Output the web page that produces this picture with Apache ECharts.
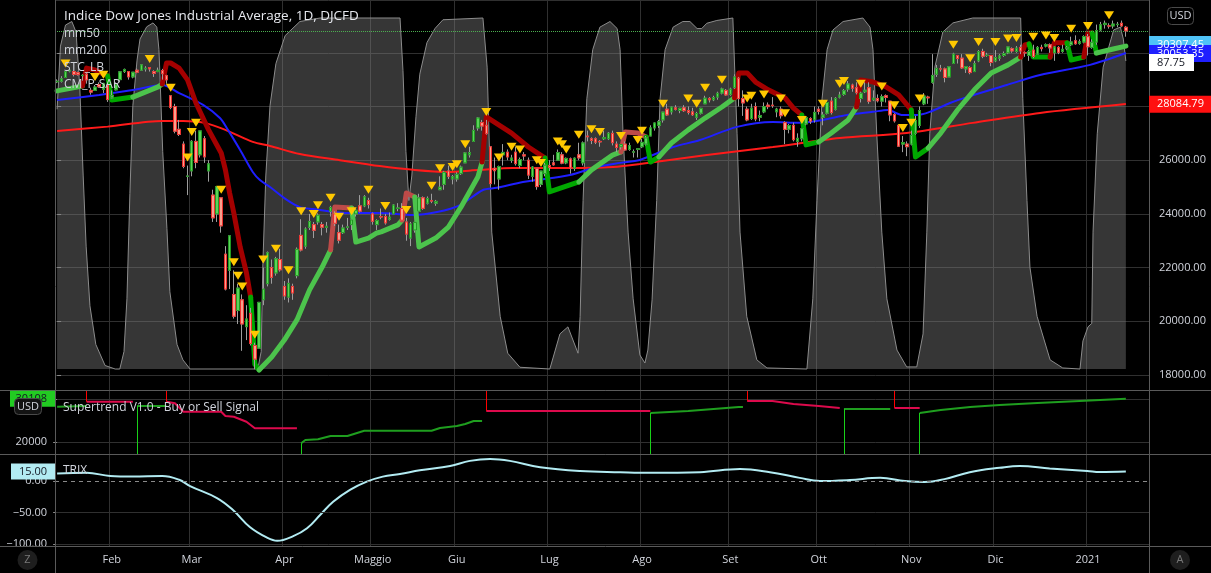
<!DOCTYPE html>
<html><head><meta charset="utf-8">
<script src="https://cdn.jsdelivr.net/npm/echarts@6.0.0/dist/echarts.min.js"></script>
<style>html,body{margin:0;padding:0;background:#000;overflow:hidden}#c{width:1211px;height:573px}</style>
</head><body><div id="c"></div>
<script>
// ---------------- DATA ----------------
const startDate = '2020-01-14', endDate = '2021-01-15';
const holidays = ['2020-01-20','2020-02-17','2020-04-10','2020-05-25','2020-07-03','2020-09-07','2020-11-26','2020-12-25','2021-01-01'];
const monthLabels = {'2020-02':'Feb','2020-03':'Mar','2020-04':'Apr','2020-05':'Maggio','2020-06':'Giu','2020-07':'Lug','2020-08':'Ago','2020-09':'Set','2020-10':'Ott','2020-11':'Nov','2020-12':'Dic','2021-01':'2021'};

// daily candles [open, close, low, high]
const ohlc = [
// Jan 2020
[28920,28940,28870,29010],[28940,29030,28890,29130],[29080,29298,29080,29300],[29320,29348,29270,29373],[29300,29196,29120,29330],
[29260,29186,29150,29300],[29150,29160,28960,29200],[29200,28990,28850,29250],[28600,28536,28440,28700],[28600,28723,28580,28800],
[28820,28734,28700,28900],[28640,28860,28500,28880],[28800,28256,28170,28860],
// Feb
[28320,28400,28300,28600],[28620,28808,28600,28900],[29000,29290,28900,29320],[29300,29380,29250,29410],[29300,29103,29000,29320],
[29100,29277,29050,29280],[29350,29276,29240,29420],[29350,29551,29350,29570],[29400,29424,29300,29500],[29450,29398,29300,29470],
[29300,29232,29100,29350],[29300,29348,29280,29450],[29340,29219,29000,29400],[29150,28992,28850,29180],[28400,27961,27900,28400],
[28000,27081,27000,28100],[27150,26957,26900,27500],[26600,25766,25700,26700],[25400,25409,24700,25800],
// Mar
[25600,26703,25400,26750],[26700,25917,25700,27100],[26200,27091,26100,27100],[26800,26121,25900,26900],[25600,25865,25200,26000],
[24700,23851,23700,24900],[24000,25018,23700,25020],[24600,23553,23300,24600],[22500,21200,21150,22800],[21900,23186,21200,23200],
[21000,20189,20100,21900],[20400,21237,19900,21400],[20800,19899,18900,21000],[19800,20087,19300,20600],[20300,19174,19100,20500],
[19100,18592,18213,19200],[19000,20705,19000,20720],[20800,21200,20600,22000],[21400,22552,21300,22600],[22000,21637,21400,22300],
[21800,22328,21700,22400],[22300,21917,21850,22700],
// Apr
[21300,20944,20800,21500],[20900,21413,20700,21600],[21300,21053,20800,21400],[21700,22680,21600,22750],[23200,22654,22600,23800],
[22800,23434,22700,23500],[23500,23719,23400,24000],[23600,23390,23100,23700],[23700,23950,23600,24020],[23600,23505,23200,23700],
[23500,23538,23300,23700],[24100,24242,23900,24300],[24000,23650,23550,24100],[23300,23019,22900,23600],[23300,23475,23250,23600],
[23500,23516,23400,23850],[23600,23775,23400,23800],[24000,24134,23900,24200],[24300,24102,24050,24700],[24300,24634,24250,24700],
[24500,24346,24200,24600],
// May
[24000,23724,23600,24050],[23600,23750,23400,23800],[23900,23883,23800,24200],[23900,23664,23600,24000],[23800,23876,23750,24050],
[24000,24331,24000,24360],[24200,24221,24100,24400],[24200,23764,23750,24400],[23700,23248,23000,23850],[23100,23625,22800,23700],
[23400,23685,23300,23700],[24100,24597,24100,24750],[24600,24207,24150,24650],[24400,24576,24350,24650],[24500,24474,24400,24750],
[24400,24465,24300,24520],[24900,24995,24900,25400],[25100,25548,24900,25600],[25600,25401,25300,25800],[25300,25383,25100,25450],
// Jun
[25300,25475,25200,25550],[25500,25742,25450,25800],[25900,26270,25900,26300],[26200,26282,26100,26500],[26700,27111,26700,27300],
[27200,27572,27100,27600],[27400,27272,27100,27500],[27300,26990,26950,27500],[26500,25128,25050,26500],[25700,25606,25100,26100],
[25300,25763,24900,25800],[26200,26290,25800,26600],[26300,26120,26000,26400],[26000,26080,25900,26200],[26300,25871,25800,26500],
[25800,26025,25700,26100],[26200,26156,26000,26300],[26000,25445,25300,26100],[25400,25745,25200,25780],[25700,25016,24900,25700],
[25100,25596,25000,25600],[25500,25813,25400,25900],
// Jul
[25800,25734,25600,26000],[25900,25827,25800,26200],[26000,26287,26000,26400],[26200,25890,25850,26300],[25900,26067,25850,26100],
[26050,25706,25500,26100],[25700,26075,25600,26100],[26200,26086,26000,26650],[25900,26643,25800,26700],[26900,26870,26700,27100],
[26800,26735,26600,26850],[26800,26672,26600,26850],[26700,26680,26500,26750],[26800,26840,26750,27100],[26800,27005,26750,27050],
[27000,26652,26550,27100],[26600,26470,26300,26700],[26500,26584,26400,26600],[26600,26379,26350,26700],[26400,26540,26350,26650],
[26300,26313,26100,26400],[26400,26428,26100,26450],
// Aug
[26500,26664,26450,26800],[26600,26828,26550,26900],[26900,27201,26900,27300],[27200,27386,27100,27400],[27300,27433,27200,27500],
[27500,27791,27400,27800],[27900,27686,27650,28100],[27800,27977,27700,28000],[27950,27896,27850,28050],[27850,27931,27750,27950],
[27950,27844,27800,28050],[27850,27778,27700,28000],[27800,27692,27650,27950],[27600,27739,27500,27800],[27750,27930,27700,27950],
[28100,28308,28100,28400],[28300,28248,28150,28350],[28250,28331,28200,28400],[28350,28492,28250,28550],[28500,28653,28450,28700],
[28600,28430,28400,28650],
// Sep
[28450,28645,28400,28700],[28700,29100,28650,29200],[29050,28292,28000,29100],[28300,28133,27650,28600],[27900,27500,27450,28000],
[27550,27940,27500,28100],[28000,27535,27450,28150],[27600,27666,27450,27850],[27800,27993,27750,28150],[28050,27995,27900,28150],
[28050,28032,27950,28350],[27800,27902,27600,27950],[27900,27657,27550,28000],[27400,27147,26600,27450],[27150,27288,27000,27350],
[27300,26763,26700,27400],[26700,26815,26500,27000],[26800,27174,26700,27200],[27350,27584,27300,27650],[27550,27452,27350,27600],
[27500,27781,27400,28000],
// Oct
[27900,27817,27700,28000],[27600,27683,27300,27800],[27750,28149,27700,28200],[28200,27773,27700,28350],[27900,28303,27850,28350],
[28350,28426,28300,28550],[28450,28587,28400,28650],[28650,28838,28550,28950],[28800,28680,28550,28850],[28700,28514,28450,28900],
[28300,28494,28150,28550],[28550,28606,28500,28900],[28700,28195,28100,28900],[28250,28309,28200,28600],[28300,28211,28150,28450],
[28200,28364,28000,28450],[28400,28336,28150,28450],[28200,27685,27450,28200],[27700,27463,27400,27750],[27300,26520,26500,27300],
[26600,26659,26300,26900],[26600,26502,26150,26700],
// Nov
[26600,26925,26550,27100],[27000,27481,26950,27650],[27300,27848,27200,28000],[28100,28390,28050,28500],[28350,28323,28100,28400],
[28900,29158,28850,29950],[29200,29421,29100,29550],[29400,29398,29300,29550],[29400,29080,28900,29450],[29100,29480,29100,29500],
[29600,29950,29600,30000],[29900,29784,29600,29900],[29800,29438,29400,29950],[29400,29483,29250,29500],[29450,29263,29200,29500],
[29300,29591,29300,29700],[29700,30046,29650,30100],[30050,29872,29800,30150],[29900,29910,29850,30000],[29900,29639,29500,29900],
// Dec
[29700,29824,29650,30100],[29800,29884,29700,29950],[29900,29970,29850,30050],[30000,30218,29950,30230],[30150,30070,30000,30200],
[30050,30174,30000,30250],[30200,30068,29950,30300],[30000,29999,29850,30050],[29900,30046,29700,30100],[30100,29862,29800,30300],
[29950,30200,29950,30250],[30200,30155,30050,30300],[30250,30304,30200,30350],[30300,30180,30000,30350],[30000,30216,29700,30250],
[30200,30016,29950,30250],[30050,30130,30000,30300],[30150,30200,30100,30250],[30300,30404,30250,30600],[30450,30336,30300,30650],
[30350,30410,30300,30500],[30400,30606,30350,30650],
// Jan 2021
[30600,30224,29900,30700],[30200,30392,30150,30500],[30400,30829,30300,31050],[30850,31041,30800,31150],[31050,31098,30900,31200],
[31000,30998,30900,31100],[31000,31069,30900,31200],[31050,31061,30950,31150],[31100,31000,30950,31200],[30950,30814,30600,31000]
];

// indicator vertices: [bar number, value]
const ma50 = [[0,28240],[10,28430],[18,28610],[25,28800],[29,28500],[34.7,28060],[38.7,27570],[40.6,27130],[43.5,26380],[46.5,25560],
 [48.2,25260],[50.6,25000],[54.6,24520],[57.7,24250],[60.8,24180],[69.6,24030],[76.7,24030],[84.6,23960],[90.3,24070],[95.8,24330],
 [101.2,24890],[104.5,24970],[110.7,25190],[114,25260],[121.9,25450],[128.3,25750],[133.8,25900],[138.5,26010],[146.4,26490],
 [152.8,26750],[161.6,27240],[170.1,27420],[176.5,27390],[182,27500],[187.7,27680],[193.9,27800],[197.4,27870],[201,27680],
 [204.3,27680],[207.4,27800],[212.2,28130],[216.2,28350],[225.7,28800],[233.6,29170],[245.5,29550],[254,29990]];
const ma200 = [[0,27090],[12,27250],[25,27460],[30,27460],[35,27390],[40,27130],[46.5,26680],[50.6,26530],[57.7,26230],[67.2,26000],
 [76.7,25780],[84.6,25640],[92.7,25560],[100.5,25640],[108.3,25710],[124.3,25710],[132.1,25750],[138.5,25860],[154.4,26190],
 [170.1,26490],[186,26830],[201.9,27010],[217.6,27390],[233.6,27760],[254,28090]];
const stc = [[0,74],[0.8,92],[2,98],[3.5,99],[4.5,96],[5.4,80],[6.2,55],[6.9,35],[7.8,18],[9.2,7],[11.4,1],[13.8,0],[14.9,0],[15.9,5],
 [16.6,20],[17.3,50],[18,75],[19,88],[19.7,94],[21.3,97.5],[22.8,98.6],[23.7,97.4],[24.2,91],[24.4,85],[25.1,62],[26.1,40],[26.8,22],
 [28.5,7],[29.9,2.6],[31.6,0],[47.7,0],[48.5,5],[48.9,30],[49.6,55],[50.6,75],[52,87],[54.2,95],[57.7,99],[62.5,100],[81.5,100],
 [82.2,85],[82.9,62],[83.6,48],[84.3,55],[85.3,72],[86.2,84],[87.9,93],[89.8,97],[91.7,99.5],[101.2,100],[102.2,86],[103.3,39],
 [105.3,15],[107.1,4.5],[110,0.5],[117.1,0],[119.5,10],[121.4,12],[123.8,4.5],[124.3,15],[125,48],[125.9,77],[127.3,91],[129,97.4],
 [131.4,99],[133.1,97],[133.8,91],[134.5,67],[135.7,39],[136.9,20],[138.5,4],[139.7,1.7],[140.4,5.4],[141.4,19.7],[142.5,48],
 [143.3,77],[144.5,91],[146.4,97.4],[148.7,99],[150.4,99],[152.1,97],[153.2,97],[154.4,98.5],[156.8,99.3],[160.6,100],[161.6,67],
 [162.3,39],[163.9,15],[166.3,2.6],[168.7,0.3],[178.2,0],[179.6,20],[180.6,48],[181.8,77],[183,91],[184.4,96.6],[186.8,99],
 [191.5,100],[193.2,97.4],[193.9,91],[194.8,67],[196,39],[197.2,20],[199.6,5.4],[201.9,0.6],[204.3,0.6],[205.8,10],[206.7,39],
 [207.4,67],[208.6,86],[210.5,96],[212.9,98.6],[217.6,100],[229,100],[229.5,77],[230.5,48],[231.2,29],[232.9,15],[236,2.6],
 [239,0.3],[243.1,0],[243.8,8],[245,12],[245.9,13],[246.2,39],[247.2,67],[248.6,86],[251.1,96.6],[252.7,97.4],[253.4,94],[254,87.75]];
// CM_P-SAR trail: trend 'up' | 'upStart' | 'down' | 'downSoft'
const sarSegments = [
 {trend:'up', pts:[[0,28580],[6,28760]]},
 {trend:'down', pts:[[6,28760],[7,29430],[9,29360],[12,29140]]},
 {trend:'upStart', pts:[[12,29140],[13,28240],[18,28350]]},
 {trend:'up', pts:[[18,28350],[24,28730],[25,28840]]},
 {trend:'down', pts:[[25,28840],[26,29620],[27,29620],[29,29430],[31,28990],[33,28130],[36,27130],[39,26270],[40,25640],[41,24780],[42,24030],[43.5,22770],[45,21800],[46,20900]]},
 {trend:'upStart', pts:[[46,20900],[47,18400],[48,18190]]},
 {trend:'up', pts:[[48,18190],[51,18670],[54,19300],[57,20050],[60,21170],[63,22020],[65,22660]]},
 {trend:'downSoft', pts:[[65,22660],[66,24260],[70,24220]]},
 {trend:'up', pts:[[70,24220],[71,22950],[74,23100],[76,23290],[77,23330],[81,23590],[82,23770]]},
 {trend:'downSoft', pts:[[82,23770],[83,24780],[85,24630]]},
 {trend:'up', pts:[[85,24630],[86,22770],[90,23100],[93,23510],[96,24260],[100,25370],[101,25930]]},
 {trend:'down', pts:[[101,25930],[102,27610],[108,27010],[112,26490],[116,26080]]},
 {trend:'upStart', pts:[[116,26080],[117,24820],[124,25190]]},
 {trend:'up', pts:[[124,25190],[127,25640],[132,26190],[134,26310]]},
 {trend:'downSoft', pts:[[134,26310],[135,27050],[138,27010],[140,26860]]},
 {trend:'upStart', pts:[[140,26860],[141,25930],[143,26120]]},
 {trend:'up', pts:[[143,26120],[146,26640],[150,27130],[154,27570],[158,27980],[161,28320]]},
 {trend:'down', pts:[[161,28320],[162,29250],[164,29250],[166,28910],[169,28620],[173,28320],[175,27940],[177,27680]]},
 {trend:'upStart', pts:[[177,27680],[178,26570],[181,26680]]},
 {trend:'up', pts:[[181,26680],[184,27010],[188,27500],[190,27980]]},
 {trend:'down', pts:[[190,27980],[191,28990],[194,28910],[197,28730],[200,28430],[203,27870]]},
 {trend:'upStart', pts:[[203,27870],[204,26120],[207,26450]]},
 {trend:'up', pts:[[207,26450],[210,27010],[214,27870],[218,28620],[222,29250],[226,29550],[229,29840]]},
 {trend:'down', pts:[[229,29840],[230,30290],[231,30330]]},
 {trend:'upStart', pts:[[231,30330],[232,29840],[236,29840]]},
 {trend:'down', pts:[[236,29840],[237,30370],[240,30370]]},
 {trend:'upStart', pts:[[240,30370],[241,29730],[244,29840]]},
 {trend:'down', pts:[[244,29840],[245,30740],[246,30740]]},
 {trend:'upStart', pts:[[246,30740],[247,29990]]},
 {trend:'up', pts:[[247,29990],[251,30140],[254,30250]]}
];
// bars carrying a yellow signal triangle
const triangleBars = [2,9,11,22,27,31,32,33,39,42,43,44,47,49,52,55,58,61,62,65,67,70,74,78,83,89,91,94,95,97,102,105,108,110,114,115,
 119,120,121,124,127,129,134,138,139,144,150,152,154,158,164,165,168,172,173,177,182,186,187,191,196,199,201,203,205,213,217,219,
 223,226,228,232,235,237,241,245,250];
// Supertrend pane
const supertrend = [
 {trend:'up', pts:[[0,28250],[7,28410]]},
 {trend:'down', pts:[[7,29420],[18,29420]]},
 {trend:'up', pts:[[19,28410],[26,28410]]},
 {trend:'down', pts:[[26,29420],[28,29040],[30,27080],[39,27080],[40,26080],[42,25910],[45,24740],[47,23200],[57,23200]]},
 {trend:'up', pts:[[58,19700],[59,20470],[62,20630],[65,21400],[69,21400],[73,22640],[89,22640],[91,23270],[95,23740],[97,24200],[99,24900],[101,24900]]},
 {trend:'down', pts:[[102,27250],[141,27250]]},
 {trend:'up', pts:[[141,26780],[150,27250],[162,28180],[163,28180]]},
 {trend:'down', pts:[[164,29580],[170,29580],[175,28880],[181,28410],[186,27950]]},
 {trend:'up', pts:[[187,27710],[198,27710]]},
 {trend:'down', pts:[[199,27950],[205,27950]]},
 {trend:'up', pts:[[205,26780],[210,27480],[217,28180],[224,28650],[233,29110],[243,29580],[254,30108]]}
];
const trix = [[0,12],[7,13],[12.6,8],[18,7],[25,8],[29,2],[31.6,-8],[38,-27],[41.8,-46],[45.8,-73],[49.9,-90],[52.3,-95],[56,-88],
 [59.4,-75],[62.5,-54],[65.6,-33],[69.6,-14],[73.6,-1],[77.4,7],[81.5,11],[86.2,17],[93.4,24],[98.1,32],[102.9,35],[107.6,32],
 [114.8,22],[124.3,16],[133.8,14],[140.9,13],[152.8,14],[162.3,19],[169.4,14],[176.5,5],[181.3,0],[188.4,1.6],[195.6,5],[201.5,0],
 [206.2,-1.6],[210.9,3],[216.9,14],[224,21],[228.8,24],[235.9,20],[244.8,16],[247.8,14.3],[254,15]];
// last-value labels
const priceLabels = [
 {axis:0, value:30307.45, text:'30307.45', bg:'#4fc3f7', fg:'#ffffff'},
 {axis:0, value:30053.35, text:'30053.35', bg:'#1f1fff', fg:'#ffffff'},
 {axis:1, value:87.75, text:'87.75', bg:'#ffffff', fg:'#131722', w:45},
 {axis:0, value:28084.79, text:'28084.79', bg:'#ff1010', fg:'#ffffff'}
];
const stLast = {value:30108, text:'30108'};
const trixLast = {value:15, text:'15.00'};

// ---------------- CHART ----------------
const FONT = '"Open Sans", "Noto Sans", sans-serif';
const TXT = '#d1d4dc', GRIDC = '#303030', SEP = '#5a5a5a';
const PAD_BARS = 5;
function tradingDays(){
  const out=[]; let d=new Date(startDate+'T00:00:00Z'); const e=new Date(endDate+'T00:00:00Z');
  while(d<=e){ const wd=d.getUTCDay(); const s=d.toISOString().slice(0,10);
    if(wd!==0 && wd!==6 && holidays.indexOf(s)<0) out.push(s); d=new Date(d.getTime()+86400000); }
  return out;
}
const dates = tradingDays();
const N = dates.length + PAD_BARS;
const cats = dates.concat(Array.from({length:PAD_BARS},(_,i)=>'pad'+i));
const isMonthStart = i => i>0 && i<dates.length && dates[i].slice(0,7)!==dates[i-1].slice(0,7);

const PRICE_MIN=17441, PRICE_MAX=31966, STC_MIN=-5.98, STC_MAX=105.13, ST_MIN=17196, ST_MAX=32152, TRIX_MIN=-103.2, TRIX_MAX=42.9;
const minus = v => String(v).replace('-', '\u2212');

function catAxis(g, labels){
  return {type:'category', gridIndex:g, data:cats, boundaryGap:true,
    axisLine:{show:false}, axisTick:{show:false},
    axisLabel: labels ? {show:true, interval:(i)=>isMonthStart(i), formatter:(v)=>monthLabels[v.slice(0,7)]||'',
      color:TXT, fontSize:11, fontFamily:FONT, margin:8} : {show:false},
    splitLine:{show:true, interval:(i)=>isMonthStart(i), lineStyle:{color:GRIDC, width:1}}};
}
function valAxis(g){ return {type:'value', gridIndex:g, min:-0.5, max:N-0.5, show:false}; }

const sarColor = {up:'#4cc34c', upStart:'#00a800', down:'#a40000', downSoft:'#bd4a48'};
const stColor = {up:'#1f9e1f', down:'#dc0a4c'};

const series = [];
series.push({type:'line', name:'STC_LB', xAxisIndex:1, yAxisIndex:1, data:stc, symbol:'none', z:1,
  lineStyle:{color:'#8c8c8c', width:1}, areaStyle:{color:'rgba(128,128,128,0.6)'}});
series.push({type:'line', name:'mm200', xAxisIndex:1, yAxisIndex:0, data:ma200, symbol:'none', smooth:0.3, z:3,
  lineStyle:{color:'#ff1a1a', width:2}});
series.push({type:'line', name:'mm50', xAxisIndex:1, yAxisIndex:0, data:ma50, symbol:'none', smooth:0.3, z:3,
  lineStyle:{color:'#1f1fff', width:2}});
sarSegments.forEach(s => series.push({type:'line', xAxisIndex:1, yAxisIndex:0, data:s.pts, symbol:'none', z:4,
  lineStyle:{color:sarColor[s.trend], width:5, cap:'round', join:'round'}}));
series.push({type:'candlestick', xAxisIndex:0, yAxisIndex:0, data:ohlc, barWidth:3, z:5,
  itemStyle:{color:'#9e9e9e', color0:'#9e9e9e', borderColor:'#9e9e9e', borderColor0:'#9e9e9e', borderWidth:1}});
series.push({type:'candlestick', xAxisIndex:0, yAxisIndex:0, z:6, barWidth:3,
  data:ohlc.map(r=>[r[0],r[1],Math.min(r[0],r[1]),Math.max(r[0],r[1])]),
  itemStyle:{color:'#5bd35b', color0:'#f7a08e', borderColor:'#229a22', borderColor0:'#ee2f2c', borderWidth:1},
  markLine:{silent:true, symbol:['none','none'], label:{show:false},
    data:[{yAxis:ohlc[ohlc.length-1][1], lineStyle:{color:'#4caf50', type:'dotted', width:1}}]}});
series.push({type:'scatter', xAxisIndex:0, yAxisIndex:0, z:7, symbol:'triangle', symbolRotate:180, symbolSize:[10,8],
  symbolOffset:[0,-8], data:triangleBars.map(i=>[i, ohlc[i][3]]), itemStyle:{color:'#ffc800', opacity:1}});
// supertrend
const stSignals = [];
supertrend.forEach((s,k) => { if(k>0) stSignals.push([s.pts[0][0], s.trend, s.pts[0][1]]); });
supertrend.forEach((s,k) => series.push({type:'line', xAxisIndex:3, yAxisIndex:2, data:s.pts, symbol:'none', z:4,
  lineStyle:{color:stColor[s.trend], width:2},
  markLine: k===supertrend.length-1 ? {silent:true, symbol:['none','none'], label:{show:false},
    data: stSignals.map(([i,t,v]) => [{coord:[i,v], lineStyle:{color:t==='up'?'#19d119':'#ff0000', width:1, type:'solid'}},
                                      {coord:[i, t==='up'?ST_MIN:ST_MAX]}])} : undefined}));
// trix
series.push({type:'line', xAxisIndex:5, yAxisIndex:3, data:trix, symbol:'none', smooth:0.4, z:4,
  lineStyle:{color:'#b2ebf2', width:2},
  markLine:{silent:true, symbol:['none','none'], label:{show:false}, data:[
    {yAxis:-50, lineStyle:{color:GRIDC, type:'solid', width:1}},
    {yAxis:-100, lineStyle:{color:GRIDC, type:'solid', width:1}},
    {yAxis:0, lineStyle:{color:'#8a8a8a', type:[4,4], width:1}}]}});

const axisLbl = {color:TXT, fontSize:11, fontFamily:FONT};
const option = {
  backgroundColor:'#000', animation:false,
  grid:[{left:55,right:62,top:0,height:390},{left:55,right:62,top:390,height:64},{left:55,right:62,top:454,height:92}],
  xAxis:[catAxis(0,false), valAxis(0), catAxis(1,false), valAxis(1), catAxis(2,true), valAxis(2)],
  yAxis:[
    {type:'value', gridIndex:0, position:'right', min:PRICE_MIN, max:PRICE_MAX, splitNumber:7,
      axisLine:{show:false}, axisTick:{show:true, length:4, lineStyle:{color:'#888'}},
      axisLabel:Object.assign({margin:10, showMinLabel:false, showMaxLabel:false, formatter:v=>v.toFixed(2)}, axisLbl),
      splitLine:{show:true, lineStyle:{color:GRIDC}}},
    {type:'value', gridIndex:0, min:STC_MIN, max:STC_MAX, show:false},
    {type:'value', gridIndex:1, position:'left', min:ST_MIN, max:ST_MAX, splitNumber:2,
      axisLine:{show:false}, axisTick:{show:true, length:4, lineStyle:{color:'#888'}},
      axisLabel:Object.assign({margin:8, showMinLabel:false, showMaxLabel:false, formatter:v=>String(v)}, axisLbl),
      splitLine:{show:true, lineStyle:{color:GRIDC}}},
    {type:'value', gridIndex:2, position:'left', min:TRIX_MIN, max:TRIX_MAX, splitNumber:3,
      axisLine:{show:false}, axisTick:{show:true, length:4, lineStyle:{color:'#888'}},
      axisLabel:Object.assign({margin:8, showMinLabel:false, showMaxLabel:false, formatter:v=>minus(v.toFixed(2))}, axisLbl),
      splitLine:{show:false}}
  ],
  series: series
};
const chart = echarts.init(document.getElementById('c'));
chart.setOption(option);

function txt(x,y,text,opt){ return Object.assign({type:'text', x:x, y:y, z:240, silent:true,
  style:Object.assign({text:text, fill:TXT, fontSize:12, fontFamily:FONT, textAlign:'left', textVerticalAlign:'middle', align:'left', verticalAlign:'middle'}, opt||{})}); }
function hline(y,c){ return {type:'line', z:150, silent:true, shape:{x1:0,y1:y,x2:1211,y2:y}, style:{stroke:c||SEP, lineWidth:1}}; }
function vline(x){ return {type:'line', z:150, silent:true, shape:{x1:x,y1:0,x2:x,y2:573}, style:{stroke:SEP, lineWidth:1}}; }

const g = [hline(390.5), hline(454.5), hline(546.5), vline(55.5), vline(1149.5),
  txt(64,16,'Indice Dow Jones Industrial Average, 1D, DJCFD',{fontSize:13.5, fill:'#e6e8ee'}),
  txt(64,34,'mm50'), txt(64,51,'mm200'), txt(64,68,'STC_LB'), txt(64,85,'CM_P-SAR'),
  txt(63,408,'Supertrend V1.0 - Buy or Sell Signal'), txt(63,471,'TRIX'),
  {type:'rect', z:210, shape:{x:1167.5,y:7.5,width:26,height:17,r:4}, style:{fill:'#000', stroke:'#4a4a4a', lineWidth:1}},
  txt(1180.5,16,'USD',{fontSize:11, textAlign:'center', align:'center'})
];
// right-side value labels
let prevY = -99;
priceLabels.map(l => Object.assign({y: chart.convertToPixel({yAxisIndex:l.axis}, l.value)}, l))
  .sort((a,b)=>a.y-b.y).forEach(l => {
    let cy = Math.max(l.y, prevY + 9); prevY = cy;
    g.push({type:'rect', z:220, shape:{x:1149, y:cy-8.5, width:l.w||62, height:17}, style:{fill:l.bg}});
    g.push(txt(1157, cy, l.text, {fontSize:11, fill:l.fg}));
  });
// left labels (supertrend, trix)
const stY = chart.convertToPixel({yAxisIndex:2}, stLast.value);
g.push({type:'rect', z:220, shape:{x:10, y:stY-8, width:45, height:16}, style:{fill:'#22cc22'}});
g.push(txt(47, stY, stLast.text, {fontSize:11, fill:'#131722', textAlign:'right', align:'right'}));
const trY = chart.convertToPixel({yAxisIndex:3}, trixLast.value);
g.push({type:'rect', z:220, shape:{x:11, y:trY-8, width:44, height:16}, style:{fill:'#b2ebf2'}});
g.push(txt(47, trY, trixLast.text, {fontSize:11, fill:'#131722', textAlign:'right', align:'right'}));
// badges
g.push({type:'rect', z:245, shape:{x:14.5,y:398.5,width:27,height:16,r:4}, style:{fill:'#131313', stroke:'#4a4a4a', lineWidth:1}});
g.push(txt(28, 406.5, 'USD', {fontSize:11, textAlign:'center', align:'center'}));
g[g.length-1].z = 246;
g.push({type:'circle', z:230, shape:{cx:27.5, cy:560, r:10}, style:{fill:'#1e1e1e'}});
g.push(txt(27.5, 560, 'Z', {fontSize:11, fill:'#787878', textAlign:'center', align:'center'}));
g.push({type:'circle', z:230, shape:{cx:1180, cy:560, r:10}, style:{fill:'#1e1e1e'}});
g.push(txt(1180, 560, 'A', {fontSize:11, fill:'#787878', textAlign:'center', align:'center'}));
chart.setOption({graphic: g});
</script></body></html>
